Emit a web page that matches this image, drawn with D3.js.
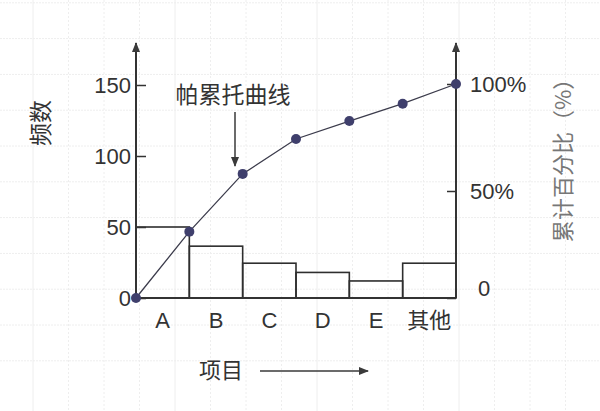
<!DOCTYPE html>
<html>
<head>
<meta charset="utf-8">
<script src="https://cdn.jsdelivr.net/npm/d3@7"></script>
<style>
  body { margin: 0; background: #fff; }
  text { font-family: "Liberation Sans", Arial, sans-serif; }
  .cjk { font-family: "Noto Sans CJK SC", sans-serif; }
</style>
</head>
<body>
<script>
const width = 600
const height = 411

// data
const categories = ["A", "B", "C", "D", "E", "其他"]
const counts = [50, 36.5, 24.5, 18, 12, 24.5]
const cumPercent = [31, 58, 74.3, 82.7, 90.8, 100]
const leftTicks = [0, 50, 100, 150]
const rightTicks = [0, 50, 100]

const svg = d3.select("body").append("svg")
    .attr("width", width)
    .attr("height", height)

// faint graph-paper background
const grid = svg.append("g").attr("stroke", "#eeeeee").attr("stroke-width", 1)
grid.selectAll("line.v")
  .data(d3.range(-2, 18))
  .join("line")
    .attr("class", "v")
    .attr("x1", i => 33 + i * 35.5).attr("x2", i => 33 + i * 35.5)
    .attr("y1", 0).attr("y2", height)
    .attr("stroke-dasharray", i => i % 4 === 0 ? null : "2,2")
grid.selectAll("line.h")
  .data(d3.range(-1, 12))
  .join("line")
    .attr("class", "h")
    .attr("y1", i => 325 - i * 35.8).attr("y2", i => 325 - i * 35.8)
    .attr("x1", 0).attr("x2", width)
    .attr("stroke-dasharray", "2,1")

// arrow marker
const defs = svg.append("defs")
defs.append("marker")
    .attr("id", "arrow")
    .attr("viewBox", "0 0 10 10")
    .attr("refX", 9).attr("refY", 5)
    .attr("markerWidth", 10).attr("markerHeight", 10)
    .attr("markerUnits", "userSpaceOnUse")
    .attr("orient", "auto")
  .append("path")
    .attr("d", "M0,1 L10,5 L0,9 Z")
    .attr("fill", "#3a3a3a")

// scales
const x = d3.scaleBand()
    .domain(categories)
    .range([136, 456])
    .padding(0)

const yL = d3.scaleLinear()
    .domain([0, 150])
    .range([298, 85])

const yR = d3.scaleLinear()
    .domain([0, 100])
    .range([298, 84])

// bars
svg.append("g")
    .attr("fill", "none")
    .attr("stroke", "#2e2e2e")
    .attr("stroke-width", 1.6)
  .selectAll("rect")
  .data(categories)
  .join("rect")
    .attr("x", (d, i) => x(d))
    .attr("width", x.bandwidth())
    .attr("y", (d, i) => yL(counts[i]))
    .attr("height", (d, i) => yL(0) - yL(counts[i]))

// axes
const leftAxis = g => g
    .attr("transform", `translate(${x.range()[0]},0)`)
    .call(d3.axisLeft(yL).tickValues(leftTicks).tickSizeInner(-10).tickSizeOuter(0).tickPadding(5))
    .call(g => g.select(".domain").remove())
    .call(g => g.selectAll(".tick line").attr("stroke", "#333").attr("stroke-width", 1.5))
    .call(g => g.selectAll(".tick text").attr("font-size", 22).attr("fill", "#333")
        .attr("font-family", "Liberation Sans, Arial, sans-serif"))

const rightAxis = g => g
    .attr("transform", `translate(${x.range()[1]},0)`)
    .call(d3.axisRight(yR).tickValues(rightTicks).tickSizeInner(-9).tickSizeOuter(0).tickPadding(14)
        .tickFormat(d => d === 0 ? "0" : d + "%"))
    .call(g => g.select(".domain").remove())
    .call(g => g.selectAll(".tick line").attr("stroke", "#333").attr("stroke-width", 1.5))
    .call(g => g.selectAll(".tick text").attr("font-size", 22).attr("fill", "#333")
        .attr("font-family", "Liberation Sans, Arial, sans-serif"))
    .call(g => g.selectAll(".tick").filter(d => d === 0).select("text")
        .attr("dx", 8).attr("dy", "-0.1em"))

svg.append("g").call(leftAxis)
svg.append("g").call(rightAxis)

// axis lines with arrow heads
const axisG = svg.append("g").attr("stroke", "#333").attr("stroke-width", 2)
axisG.append("line")
    .attr("x1", x.range()[0]).attr("x2", x.range()[1])
    .attr("y1", yL(0)).attr("y2", yL(0))
axisG.selectAll("line.yaxis")
  .data(x.range())
  .join("line")
    .attr("class", "yaxis")
    .attr("x1", d => d).attr("x2", d => d)
    .attr("y1", yL(0)).attr("y2", 43)
    .attr("marker-end", "url(#arrow)")

// category labels
svg.append("g")
  .selectAll("text")
  .data(categories)
  .join("text")
    .attr("class", d => /[A-Z]/.test(d) ? null : "cjk")
    .attr("x", d => x(d) + x.bandwidth() / 2)
    .attr("y", 320)
    .attr("dy", "0.36em")
    .attr("text-anchor", "middle")
    .attr("font-size", 22)
    .attr("fill", "#333")
    .text(d => d)

// pareto curve
const curve = [{x: x.range()[0], p: 0}].concat(
  categories.map((c, i) => ({x: x(c) + x.bandwidth(), p: cumPercent[i]})))

svg.append("path")
    .datum(curve)
    .attr("fill", "none")
    .attr("stroke", "#3c3c4c")
    .attr("stroke-width", 1.3)
    .attr("d", d3.line().x(d => d.x).y(d => yR(d.p)))

svg.append("g")
    .attr("fill", "#3f3f6c")
  .selectAll("circle")
  .data(curve)
  .join("circle")
    .attr("cx", d => d.x)
    .attr("cy", d => yR(d.p))
    .attr("r", 5)

// annotation
svg.append("text")
    .attr("class", "cjk")
    .attr("x", 233).attr("y", 95)
    .attr("dy", "0.36em")
    .attr("text-anchor", "middle")
    .attr("font-size", 23)
    .attr("fill", "#333")
    .text("帕累托曲线")

svg.append("line")
    .attr("x1", 235).attr("x2", 235)
    .attr("y1", 112).attr("y2", 166)
    .attr("stroke", "#3a3a3a").attr("stroke-width", 1.5)
    .attr("marker-end", "url(#arrow)")

// axis titles
svg.append("text")
    .attr("class", "cjk")
    .attr("transform", "translate(41,123) rotate(-90)")
    .attr("dy", "0.36em")
    .attr("text-anchor", "middle")
    .attr("font-size", 23)
    .attr("fill", "#333")
    .text("频数")

svg.append("text")
    .attr("class", "cjk")
    .attr("transform", "translate(563,155) rotate(-90)")
    .attr("dy", "0.36em")
    .attr("text-anchor", "middle")
    .attr("font-size", 22)
    .attr("fill", "#777")
    .text("累计百分比（%）")

svg.append("text")
    .attr("class", "cjk")
    .attr("x", 221).attr("y", 370)
    .attr("dy", "0.36em")
    .attr("text-anchor", "middle")
    .attr("font-size", 22)
    .attr("fill", "#333")
    .text("项目")

svg.append("line")
    .attr("x1", 260).attr("x2", 368)
    .attr("y1", 371).attr("y2", 371)
    .attr("stroke", "#3a3a3a").attr("stroke-width", 1.3)
    .attr("marker-end", "url(#arrow)")
</script>
</body>
</html>
